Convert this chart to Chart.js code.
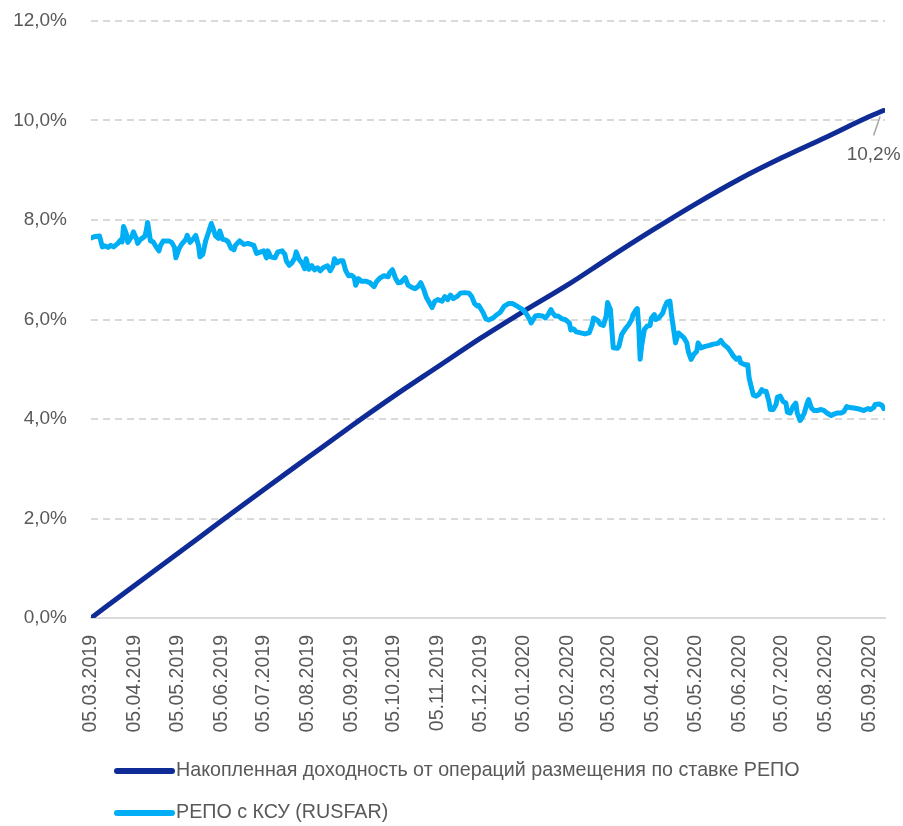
<!DOCTYPE html>
<html lang="ru">
<head>
<meta charset="utf-8">
<title>РЕПО с КСУ (RUSFAR)</title>
<script src="https://cdn.jsdelivr.net/npm/chart.js@4.4.1/dist/chart.umd.min.js"></script>
<style>
  html, body { margin: 0; padding: 0; background: #ffffff; }
  #wrap { width: 903px; height: 826px; }
</style>
</head>
<body>
<div id="wrap"><canvas id="grafico" width="903" height="826"></canvas></div>
<script>
// Подписи оси X
const tickLabels = ['05.03.2019', '05.04.2019', '05.05.2019', '05.06.2019', '05.07.2019', '05.08.2019',
    '05.09.2019', '05.10.2019', '05.11.2019', '05.12.2019', '05.01.2020', '05.02.2020', '05.03.2020',
    '05.04.2020', '05.05.2020', '05.06.2020', '05.07.2020', '05.08.2020', '05.09.2020'];

// Накопленная доходность (дни от 05.03.2019, %)
const accruedDays = [0, 31, 61, 92, 122, 153, 184, 214, 245, 275, 306, 337, 366, 397, 427, 458, 488, 519, 550, 560];
const accruedValues = [0, 0.66, 1.29, 1.95, 2.58, 3.22, 3.86, 4.46, 5.05, 5.62, 6.17, 6.70, 7.24, 7.80, 8.32, 8.82, 9.25, 9.66, 10.08, 10.2];

// RUSFAR (дни от 05.03.2019, %)
const rusfarDays = [
    0, 3, 6, 8, 10, 12, 14, 16, 19, 21, 22, 23, 25, 26, 29, 30, 32, 33, 35, 38,
    39, 40, 42, 44, 46, 48, 49, 51, 55, 57, 59, 60, 62, 64, 67, 68, 70, 72, 74, 76,
    77, 79, 81, 83, 85, 86, 88, 90, 91, 93, 95, 97, 99, 101, 102, 105, 108, 111,
    115, 117, 120, 122, 124, 125, 127, 130, 132, 135, 137, 138, 140, 142, 144, 145, 147, 149, 151, 152,
    154, 156, 158, 160, 162, 164, 167, 169, 171, 172, 174, 176, 178, 180, 182, 184, 186, 187, 189, 191,
    194, 197, 200, 202, 204, 207, 210, 211, 213, 215, 217, 219, 222, 224,
    227, 229, 231, 233, 235, 237, 239, 241, 243, 245, 248, 250, 252, 254, 256, 259, 261, 264, 267, 269,
    271, 273, 274, 277, 279, 281, 284, 286, 289, 292, 295, 298, 301, 305, 307, 310, 311, 314, 316, 319,
    321, 323, 325, 326, 328, 330, 333, 335, 338,
    339, 341, 343, 346, 349, 352, 354, 355, 358, 360, 362, 364, 365, 367, 368, 369, 372, 373, 375, 378,
    380, 382, 383, 385, 386, 387, 388, 389, 391, 393, 395, 396, 398, 399, 401, 404, 405, 407, 409, 410,
    412, 413, 415, 417, 419, 421, 422, 424, 426, 428, 429, 431, 434, 437, 439, 443, 445, 447, 450,
    452, 454, 456, 458, 459, 462, 464, 465, 467, 468, 470, 472, 474, 475, 477, 479, 480, 482, 484, 485,
    487, 489, 491, 492, 494, 496, 498, 499, 501, 502, 504, 506, 507, 509, 511, 513, 516, 518, 520, 523,
    525, 527, 530, 532, 534, 536, 539, 541, 544, 546, 549, 551, 553, 554, 557, 559, 560
];
const rusfarRates = [
    7.64, 7.67, 7.68, 7.46, 7.48, 7.45, 7.49, 7.46, 7.53, 7.60, 7.56, 7.87, 7.72, 7.55, 7.68, 7.76, 7.63, 7.53, 7.61, 7.67,
    7.78, 7.95, 7.58, 7.56, 7.46, 7.38, 7.48, 7.58, 7.58, 7.55, 7.45, 7.24, 7.41, 7.51, 7.61, 7.69, 7.55, 7.61, 7.69, 7.48,
    7.26, 7.31, 7.58, 7.75, 7.93, 7.85, 7.68, 7.63, 7.78, 7.61, 7.60, 7.56, 7.43, 7.40, 7.49, 7.58, 7.51, 7.53,
    7.49, 7.33, 7.36, 7.38, 7.24, 7.38, 7.26, 7.24, 7.36, 7.38, 7.31, 7.18, 7.09, 7.14, 7.24, 7.36, 7.21, 7.14, 7.02, 7.22,
    7.01, 7.08, 7.00, 7.04, 6.98, 7.04, 7.08, 6.98, 7.08, 7.22, 7.14, 7.18, 7.18, 6.98, 6.88, 6.89, 6.84, 6.69, 6.82, 6.77,
    6.77, 6.74, 6.66, 6.77, 6.83, 6.88, 6.86, 6.94, 7.00, 6.84, 6.74, 6.75, 6.84, 6.69,
    6.64, 6.62, 6.66, 6.74, 6.61, 6.44, 6.34, 6.24, 6.37, 6.40, 6.37, 6.46, 6.40, 6.49, 6.42, 6.47, 6.53, 6.54, 6.53, 6.46,
    6.32, 6.27, 6.28, 6.14, 6.01, 5.99, 6.03, 6.08, 6.14, 6.27, 6.32, 6.32, 6.27, 6.20, 6.14, 6.00, 5.93, 6.07, 6.08, 6.07,
    6.03, 6.10, 6.20, 6.14, 6.07, 6.07, 6.01, 6.00, 5.93,
    5.79, 5.81, 5.75, 5.73, 5.71, 5.73, 5.88, 6.03, 5.98, 5.90, 5.88, 6.07, 6.34, 6.20, 5.80, 5.43, 5.42, 5.46, 5.70, 5.83,
    5.90, 6.00, 6.10, 6.19, 6.22, 5.87, 5.20, 5.46, 5.80, 5.87, 5.88, 6.03, 6.10, 6.00, 6.03, 6.13, 6.22, 6.35, 6.37, 6.13,
    5.73, 5.53, 5.73, 5.68, 5.63, 5.53, 5.36, 5.20, 5.30, 5.36, 5.53, 5.43, 5.46, 5.48, 5.50, 5.52, 5.58, 5.50, 5.43,
    5.35, 5.26, 5.20, 5.23, 5.13, 5.09, 5.09, 4.82, 4.59, 4.48, 4.46, 4.50, 4.59, 4.56, 4.56, 4.35, 4.19, 4.19, 4.29, 4.44,
    4.46, 4.35, 4.32, 4.14, 4.12, 4.25, 4.32, 4.12, 3.97, 4.01, 4.12, 4.32, 4.39, 4.22, 4.17, 4.17, 4.19, 4.17, 4.12, 4.07,
    4.10, 4.12, 4.12, 4.15, 4.25, 4.23, 4.22, 4.21, 4.19, 4.17, 4.21, 4.19, 4.23, 4.29, 4.30, 4.27, 4.21
];

const seriesNames = ['Накопленная доходность от операций размещения по ставке РЕПО', 'РЕПО с КСУ (RUSFAR)'];

// Стиль
const corEscura = '#0f2b96';
const corClara = '#00aef5';
const corTexto = '#595959';
const corGrade = '#d9d9d9';
const fonte = '"Liberation Sans", Arial, sans-serif';

// Дата -> дни от начала
const inicio = Date.UTC(2019, 2, 5);
function diaDe(label) {
    const [d, m, y] = label.split('.').map(Number);
    return Math.round((Date.UTC(y, m - 1, d) - inicio) / 86400000);
}
const tickDays = tickLabels.map(diaDe);

function formatPct(v) {
    return Number(v).toFixed(1).replace('.', ',') + '%';
}

// Легенда и подпись последнего значения
const legendaPlugin = {
    id: 'legenda',
    afterDraw(chart) {
        const {ctx, chartArea, scales} = chart;
        ctx.save();
        ctx.font = '19.7px ' + fonte;
        ctx.textBaseline = 'middle';
        chart.data.datasets.forEach((ds, i) => {
            const y = chartArea.bottom + 153 + i * 42;
            ctx.strokeStyle = ds.borderColor;
            ctx.lineWidth = 6;
            ctx.lineCap = 'round';
            ctx.beginPath();
            ctx.moveTo(117, y);
            ctx.lineTo(172, y);
            ctx.stroke();
            ctx.fillStyle = corTexto;
            ctx.fillText(ds.label, 176, y);
        });

        const lastX = scales.x.getPixelForValue(accruedDays[accruedDays.length - 1]);
        const lastY = scales.y.getPixelForValue(accruedValues[accruedValues.length - 1]);
        ctx.strokeStyle = '#a6a6a6';
        ctx.lineWidth = 1.5;
        ctx.lineCap = 'butt';
        ctx.beginPath();
        ctx.moveTo(lastX - 3.5, lastY + 6);
        ctx.lineTo(lastX - 10, lastY + 25);
        ctx.stroke();
        ctx.textAlign = 'center';
        ctx.fillStyle = corTexto;
        ctx.font = '19px ' + fonte;
        ctx.fillText(formatPct(accruedValues[accruedValues.length - 1]), lastX - 10, lastY + 44);
        ctx.restore();
    }
};

Chart.defaults.font.family = fonte;
Chart.defaults.font.size = 19;
Chart.defaults.color = corTexto;

const ctx = document.getElementById('grafico').getContext('2d');
const chart = new Chart(ctx, {
    type: 'line',
    data: {
        datasets: [{
            label: seriesNames[0],
            data: accruedDays.map((d, i) => ({x: d, y: accruedValues[i]})),
            borderColor: corEscura,
            backgroundColor: corEscura,
            borderWidth: 5,
            pointRadius: 0,
            cubicInterpolationMode: 'monotone',
            borderCapStyle: 'round',
            borderJoinStyle: 'round',
            order: 2
        }, {
            label: seriesNames[1],
            data: rusfarDays.map((d, i) => ({x: d, y: rusfarRates[i]})),
            borderColor: corClara,
            backgroundColor: corClara,
            borderWidth: 5,
            pointRadius: 0,
            tension: 0,
            borderCapStyle: 'round',
            borderJoinStyle: 'round',
            order: 1
        }]
    },
    options: {
        responsive: false,
        devicePixelRatio: 1,
        animation: false,
        layout: {
            padding: {top: 21, right: 18, bottom: 88, left: 0}
        },
        plugins: {
            legend: {display: false},
            tooltip: {enabled: false}
        },
        scales: {
            x: {
                type: 'linear',
                min: 0,
                max: 561,
                afterFit: (s) => { s.height = 120; },
                afterBuildTicks: (s) => { s.ticks = tickDays.map(v => ({value: v})); },
                grid: {display: false},
                border: {display: true, color: corGrade, width: 2},
                ticks: {
                    autoSkip: false,
                    minRotation: 90,
                    maxRotation: 90,
                    padding: 9,
                    color: corTexto,
                    font: {size: 19.5},
                    callback: (v) => {
                        const i = tickDays.indexOf(v);
                        return i >= 0 ? tickLabels[i] : '';
                    }
                }
            },
            y: {
                min: 0,
                max: 12,
                afterFit: (s) => { s.width = 91; },
                ticks: {
                    stepSize: 2,
                    padding: 0,
                    color: corTexto,
                    callback: (v) => formatPct(v)
                },
                grid: {
                    drawTicks: true,
                    tickLength: 24,
                    tickColor: 'rgba(0,0,0,0)',
                    lineWidth: 2,
                    color: (c) => (c.tick && c.tick.value === 0) ? 'rgba(0,0,0,0)' : corGrade,
                    borderDash: [7, 5]
                },
                border: {display: false, dash: [7, 5]}
            }
        }
    },
    plugins: [legendaPlugin]
});
</script>
</body>
</html>
